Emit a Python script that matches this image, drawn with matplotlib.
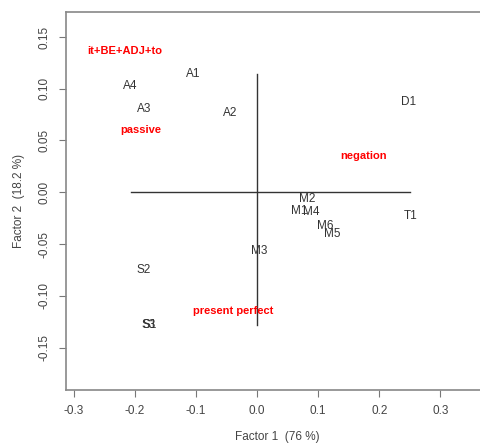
import matplotlib.pyplot as plt

plt.rcParams['font.family'] = ['Liberation Sans', 'DejaVu Sans']

# category points (factor 1, factor 2)
names = ['A1', 'A4', 'A3', 'A2', 'D1', 'M2', 'M1', 'M4', 'M6', 'M5',
         'T1', 'M3', 'S2', 'S3', 'S1']
f1 = [-0.105, -0.207, -0.185, -0.044, 0.248, 0.082, 0.069, 0.089, 0.111,
      0.123, 0.251, 0.003, -0.185, -0.177, -0.175]
f2 = [0.114, 0.103, 0.080, 0.077, 0.087, -0.007, -0.018, -0.019, -0.033,
      -0.040, -0.023, -0.057, -0.075, -0.128, -0.128]

# feature labels
features = ['it+BE+ADJ+to', 'passive', 'negation', 'present perfect']
feat_f1 = [-0.216, -0.190, 0.174, -0.039]
feat_f2 = [0.136, 0.060, 0.035, -0.115]

xticks = [-0.3, -0.2, -0.1, 0.0, 0.1, 0.2, 0.3]
yticks = [-0.15, -0.10, -0.05, 0.00, 0.05, 0.10, 0.15]

fig = plt.figure(figsize=(4.81, 4.48), dpi=100)
ax = fig.add_axes([0.137, 0.1295, 0.88, 0.8435])

ax.set_xlim(-0.313, 0.38)
ax.set_ylim(-0.191, 0.174)

# axis cross spanning the range of the points
ax.plot([min(f1), max(f1)], [0, 0], color='#333333', lw=1)
ax.plot([0, 0], [min(f2), max(f2)], color='#333333', lw=1)

for n, x, y in zip(names, f1, f2):
    ax.text(x, y, n, ha='center', va='center', fontsize=8.5, color='#333333')

for n, x, y in zip(features, feat_f1, feat_f2):
    ax.text(x, y, n, ha='center', va='center', fontsize=8, color='red',
            fontweight='bold')

ax.set_xticks(xticks)
ax.set_xticklabels(['%.1f' % v for v in xticks])
ax.set_yticks(yticks)
ax.set_yticklabels(['%.2f' % v for v in yticks], rotation=90, va='center')
ax.tick_params(direction='out', length=5, color='#777777', labelcolor='#444444',
               labelsize=8.5, pad=6)

for s in ax.spines.values():
    s.set_color('#888888')
    s.set_linewidth(1.2)

ax.set_xlabel('Factor 1  (76 %)', fontsize=8.5, color='#444444', labelpad=10)
ax.set_ylabel('Factor 2  (18.2 %)', fontsize=8.5, color='#444444', labelpad=10)

fig.savefig('out.png', dpi=100)
